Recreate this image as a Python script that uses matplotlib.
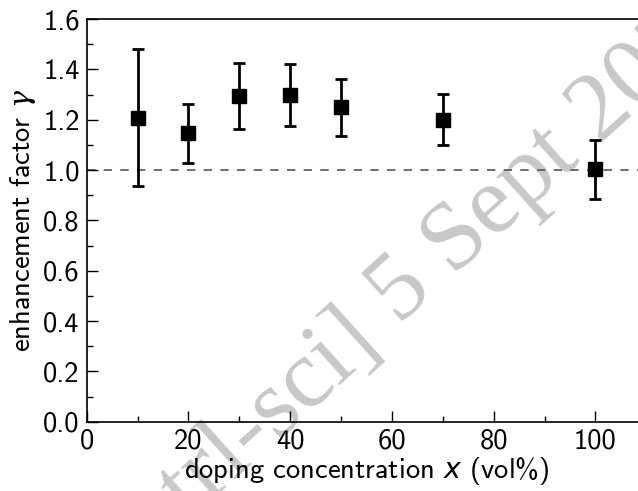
import numpy as np
import matplotlib
matplotlib.use("Agg")
import matplotlib.pyplot as plt

plt.rcParams['font.family'] = 'cmss10'
plt.rcParams['mathtext.fontset'] = 'custom'
plt.rcParams['mathtext.rm'] = 'cmss10'
plt.rcParams['mathtext.it'] = 'DejaVu Sans:italic'
plt.rcParams['mathtext.cal'] = 'DejaVu Serif:italic'
plt.rcParams['axes.unicode_minus'] = False

# datos
conc = [10, 20, 30, 40, 50, 70, 100]
gamma = [1.208, 1.146, 1.294, 1.298, 1.252, 1.201, 1.003]
err_low = [0.273, 0.119, 0.132, 0.122, 0.117, 0.102, 0.119]
err_up = [0.275, 0.116, 0.131, 0.123, 0.110, 0.100, 0.115]

fig = plt.figure(figsize=(6.38, 4.91), dpi=100)
ax = fig.add_axes([0.136, 0.141, 0.877, 0.820])

ax.axhline(1.0, color='#555555', lw=1.2, ls=(0, (5, 5)), zorder=1)
ax.errorbar(conc, gamma, yerr=[err_low, err_up], fmt='s', color='black',
            ms=10, elinewidth=2, capsize=4, capthick=2, zorder=3)

ax.set_xlim(0, 110)
ax.set_ylim(0, 1.6)
ax.set_xticks(np.arange(0, 101, 20))
ax.set_xticks(np.arange(10, 110, 20), minor=True)
ax.set_yticks(np.arange(0, 1.61, 0.2))
ax.set_yticks(np.arange(0.1, 1.6, 0.2), minor=True)
ax.set_yticklabels(['%.1f' % v for v in np.arange(0, 1.61, 0.2)])
ax.tick_params(which='both', direction='in', labelsize=20.5, pad=5)
ax.tick_params(which='major', length=8, width=1)
ax.tick_params(which='minor', length=4, width=1)
for s in ax.spines.values():
    s.set_linewidth(1.2)

ax.set_xlabel(r'doping concentration $x$ (vol%)', fontsize=20.5, labelpad=1)
ax.set_ylabel(r'enhancement factor $\mathcal{\gamma}$', fontsize=20.5, labelpad=4)

# sello de arxiv de fondo (coordenadas en pixeles)
ang = 42
ax.text(399, 166, '5 Sept 2020', transform=None, rotation=ang,
        rotation_mode='anchor', ha='left', va='baseline', fontsize=70,
        family='Liberation Serif', color='#c8c8c8', zorder=0, clip_on=False)
ax.text(381, 150, '[cond-mat.mtrl-sci]', transform=None, rotation=ang,
        rotation_mode='anchor', ha='right', va='baseline', fontsize=70,
        family='Liberation Serif', color='#c8c8c8', zorder=0, clip_on=False)

plt.savefig('out.png', dpi=100)
